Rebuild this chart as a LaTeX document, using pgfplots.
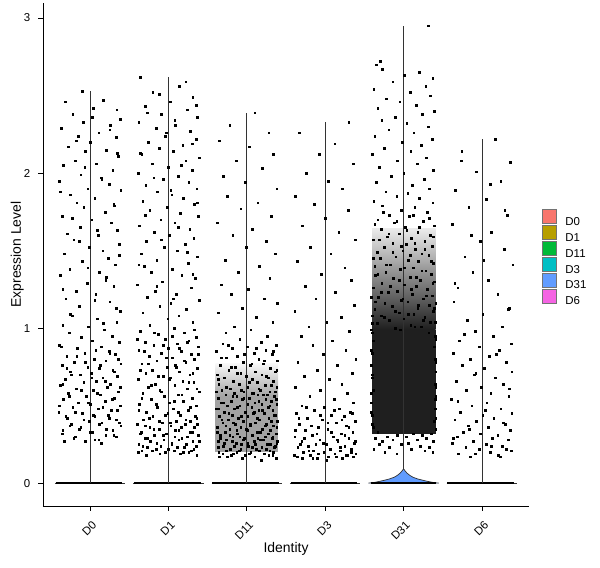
\documentclass[border=0pt]{standalone}
\usepackage{fontspec}
\setmainfont{Liberation Sans}
\usepackage{pgfplots}
\usepackage{pgfplotstable}
\pgfplotsset{compat=1.18}

\definecolor{cD0}{HTML}{F8766D}
\definecolor{cD1}{HTML}{B79F00}
\definecolor{cD11}{HTML}{00BA38}
\definecolor{cD3}{HTML}{00BFC4}
\definecolor{cD31}{HTML}{619CFF}
\definecolor{cD6}{HTML}{F564E3}

% jittered cells: x = horizontal jitter, y = expression level (both x100)
\pgfplotstableread[row sep=\\]{
x y\\
-10 253\\ 17 247\\ 4 242\\ 34 241\\ -22 238\\ 38 235\\ -9 233\\ 26 231\\ -37 229\\ 11 226\\
-15 224\\ 33 223\\ 0 220\\ -28 217\\ 21 215\\ -6 214\\ 36 211\\ -19 208\\ 8 206\\ -34 205\\
29 202\\ -12 199\\ 14 197\\ -39 195\\ 24 193\\ -3 190\\ 39 189\\ -25 186\\ 6 184\\ -17 181\\
31 179\\ -8 178\\ 19 175\\ -36 172\\ 2 170\\ 27 168\\ -13 165\\ 35 163\\ -29 161\\ 10 160\\
-21 157\\ 37 154\\ -1 152\\ 16 150\\ -33 148\\ 23 145\\ -10 143\\ 32 141\\ -26 138\\ 12 136\\
-38 134\\ 20 131\\ -4 129\\ 30 127\\ -18 124\\ 7 122\\ -31 119\\ 25 117\\ -14 114\\ 38 111\\
-23 108\\ 9 106\\ 34 104\\ -35 102\\ -2 101\\ 18 99\\ -27 97\\ 28 95\\ -11 94\\ 3 92\\
37 91\\ -39 89\\ 14 88\\ -16 87\\ 24 85\\ -7 84\\ 32 83\\ -30 82\\ 5 80\\ 20 79\\
-20 78\\ 39 77\\ -36 76\\ -3 75\\ 12 74\\ 29 73\\ -25 72\\ 1 71\\ -13 70\\ 35 69\\
16 68\\ -32 67\\ 8 66\\ -8 65\\ 26 64\\ -38 63\\ 22 62\\ -18 61\\ 4 60\\ 36 59\\
-28 58\\ 13 57\\ -5 56\\ 31 55\\ -34 54\\ 19 53\\ -15 52\\ 0 51\\ 38 50\\ -22 49\\
10 48\\ 27 47\\ -40 46\\ -10 45\\ 23 44\\ 6 43\\ -29 42\\ 33 41\\ -1 40\\ 15 39\\
-24 38\\ 39 37\\ -12 36\\ 21 35\\ -35 34\\ 3 33\\ 30 31\\ -19 30\\ 11 28\\ -6 27\\
-37 88\\ 7 86\\ 25 84\\ -17 82\\ 36 80\\ -6 78\\ 13 76\\ -30 74\\ 31 72\\ -24 70\\
2 68\\ 19 66\\ -35 64\\ 38 62\\ -11 60\\ 9 58\\ -27 56\\ 28 54\\ -2 52\\ -39 50\\
16 49\\ 35 47\\ -19 46\\ 4 44\\ -31 43\\ 24 42\\ -8 41\\ 37 39\\ 12 38\\ -26 37\\
-14 35\\ 29 34\\ 0 33\\ -36 32\\ 20 31\\ 33 30\\ -21 29\\ 6 28\\ -33 27\\ 14 26\\
-32 246\\ 3 236\\ 25 228\\ -18 221\\ 35 213\\ -7 204\\ 15 196\\ -38 188\\ 30 180\\ -23 171\\
9 163\\ -14 156\\ 37 147\\ -3 139\\ 21 133\\ -35 125\\ 6 118\\ 33 113\\ -25 109\\ 17 103\\
}\tDzero

\pgfplotstableread[row sep=\\]{
x y\\
-36 262\\ 14 256\\ -20 252\\ 31 249\\ 2 246\\ -30 243\\ 24 241\\ -9 238\\ 37 236\\ -38 233\\
9 231\\ -16 229\\ 28 227\\ -4 224\\ 35 222\\ -26 220\\ 18 218\\ -12 216\\ 6 214\\ -34 212\\
39 210\\ 22 208\\ -21 206\\ 0 204\\ 30 202\\ -39 200\\ 12 198\\ -7 196\\ 26 194\\ -29 192\\
36 190\\ -14 188\\ 4 186\\ 19 184\\ -33 182\\ 33 180\\ -2 178\\ -24 176\\ 15 174\\ 38 172\\
-10 170\\ 8 168\\ -37 166\\ 27 164\\ -18 162\\ 1 160\\ 32 158\\ -28 156\\ 21 154\\ -5 152\\
11 150\\ -35 148\\ 37 146\\ -15 144\\ 25 142\\ -31 140\\ 5 138\\ -22 136\\ 17 134\\ 34 132\\
-8 130\\ -40 128\\ 29 126\\ -17 124\\ 10 122\\ -27 120\\ 39 118\\ 3 116\\ -11 114\\ 23 112\\
-33 110\\ 13 108\\ -1 106\\ 31 104\\ -24 102\\ 7 100\\ -36 98\\ 20 97\\ -13 96\\ 35 94\\
-4 93\\ 26 92\\ -30 91\\ 11 90\\ -19 89\\ 38 88\\ 0 87\\ -38 86\\ 16 85\\ -9 84\\
29 83\\ -25 82\\ 5 81\\ 33 80\\ -15 79\\ 22 78\\ -34 77\\ 9 76\\ -2 75\\ 37 74\\
-21 73\\ 14 72\\ -29 71\\ 27 70\\ -7 69\\ 2 68\\ -39 67\\ 18 66\\ 32 65\\ -17 64\\
8 63\\ -26 62\\ 24 61\\ -11 60\\ 39 59\\ -33 58\\ 12 57\\ -5 56\\ 30 55\\ -22 54\\
19 53\\ 1 52\\ -37 51\\ 35 50\\ -14 49\\ 6 48\\ 25 47\\ -28 46\\ -1 45\\ 15 44\\
-20 43\\ 36 42\\ -32 41\\ 10 40\\ 28 40\\ -8 39\\ -40 38\\ 21 38\\ 3 37\\ -24 36\\
33 36\\ -12 35\\ 13 34\\ -35 33\\ 27 33\\ -3 32\\ 38 31\\ -18 31\\ 8 30\\ -30 29\\
17 29\\ -6 28\\ 31 27\\ -23 27\\ 4 26\\ -38 25\\ 23 25\\ -10 24\\ 35 24\\ -27 23\\
11 23\\ 0 22\\ -16 22\\ 29 21\\ -34 21\\ 19 20\\ -4 20\\
33 99\\ -18 97\\ 5 95\\ -40 93\\ 24 91\\ -7 89\\ 14 87\\ -31 85\\ 38 83\\ -3 81\\
20 79\\ -26 77\\ 10 75\\ -36 73\\ 31 71\\ -13 69\\ 1 67\\ 26 65\\ -22 63\\ 36 61\\
-9 59\\ 17 57\\ -34 55\\ 7 53\\ -16 51\\ 28 49\\ -38 47\\ 12 46\\ -4 44\\ 34 43\\
-25 42\\ 22 41\\ -12 40\\ 2 39\\ 37 38\\ -30 37\\ 16 36\\ -19 35\\ 9 34\\ 30 33\\
-36 32\\ -7 31\\ 24 30\\ -27 29\\ 13 28\\ 39 27\\ -15 26\\ 4 25\\ -33 24\\ 20 23\\
-1 22\\ 32 22\\ -21 21\\ 7 21\\ -39 20\\ 26 20\\ 15 19\\ -11 19\\ 36 18\\ -28 18\\
22 259\\ -12 251\\ 35 244\\ -27 239\\ 8 234\\ -3 226\\ 30 219\\ -36 213\\ 16 205\\ -19 197\\
3 189\\ 37 181\\ -30 173\\ 12 165\\ -9 157\\ 24 149\\ -38 141\\ 31 135\\ -15 127\\ 6 119\\
}\tDone

\pgfplotstableread[row sep=\\]{
x y\\
10 239\\ -22 231\\ 28 226\\ -35 221\\ 3 217\\ 34 212\\ -14 208\\ 20 203\\ -30 198\\ -2 194\\
38 190\\ -25 185\\ 14 181\\ -8 177\\ 31 172\\ -38 168\\ 7 164\\ -18 160\\ 25 156\\ -1 152\\
36 148\\ -28 144\\ 16 140\\ -11 136\\ 29 132\\ -33 128\\ 2 125\\ -20 122\\ 22 119\\ 39 116\\
-6 113\\ -37 110\\ 12 107\\ 33 104\\ -16 101\\ 5 99\\ -27 97\\ 26 95\\ -9 93\\ 18 91\\
-31 90\\ 37 89\\ 0 88\\ -19 87\\ 24 86\\ -39 85\\ 9 84\\ 32 83\\ -12 82\\ -26 81\\
15 80\\ 39 79\\ -5 78\\ 21 77\\ -34 76\\ 4 76\\ -15 75\\ 30 74\\ -23 73\\ 11 72\\
36 72\\ -8 71\\ -38 70\\ 19 70\\ -1 69\\ 27 68\\ -29 68\\ 7 67\\ -17 66\\ 34 66\\
13 65\\ -36 64\\ -10 64\\ 23 63\\ 1 62\\ 38 62\\ -21 61\\ -32 60\\ 17 60\\ -4 59\\
29 59\\ 8 58\\ -27 57\\ 14 57\\ 35 56\\ -13 56\\ 3 55\\ -37 55\\ 24 54\\ -6 54\\
31 53\\ -20 53\\ 10 52\\ -33 52\\ 19 51\\ 38 51\\ -9 50\\ -25 50\\ 6 49\\ 27 49\\
-16 48\\ -39 48\\ 15 47\\ 33 47\\ -2 46\\ -29 46\\ 22 45\\ 8 45\\ -19 44\\ 36 44\\
-35 43\\ 1 43\\ 28 42\\ -11 42\\ 16 41\\ -24 41\\ 39 40\\ -5 40\\ 11 39\\ -31 39\\
25 38\\ -15 38\\ 4 37\\ 34 37\\ -38 36\\ -8 36\\ 20 35\\ -22 35\\ 30 34\\ 0 34\\
-28 33\\ 13 33\\ 37 32\\ -12 32\\ -34 31\\ 7 31\\ 23 30\\ -18 30\\ 32 29\\ -3 29\\
-26 28\\ 17 28\\ 9 27\\ -37 27\\ 38 26\\ -14 26\\ 26 25\\ -7 25\\ -30 24\\ 2 24\\
19 23\\ 35 23\\ -21 22\\ 12 22\\ -10 21\\ 29 21\\ -36 20\\ 5 20\\ 22 19\\ -17 19\\
33 18\\ -2 18\\ -25 17\\
-39 59\\ 6 58\\ 26 57\\ -18 56\\ -4 55\\ 37 54\\ 15 53\\ -30 52\\ 1 51\\ 29 50\\
-12 49\\ -36 48\\ 20 47\\ 9 46\\ -23 45\\ 35 44\\ -7 43\\ 13 42\\ -32 41\\ 31 40\\
-17 39\\ 4 38\\ 23 37\\ -27 37\\ 38 36\\ -1 35\\ -13 34\\ 17 33\\ -38 33\\ 27 32\\
6 31\\ -22 31\\ 33 30\\ -9 30\\ 14 29\\ -34 29\\ 21 28\\ -5 28\\ 39 27\\ -19 27\\
1 26\\ -29 26\\ 30 25\\ 11 25\\ -16 24\\ 36 24\\ -37 23\\ 7 23\\ 25 22\\ -8 22\\
-26 21\\ 16 21\\ 34 20\\ -13 20\\ 3 19\\ -31 19\\ 28 18\\ -20 18\\ 10 17\\ -35 17\\
37 16\\ -6 16\\ 18 15\\
-24 89\\ 12 87\\ 34 85\\ -3 83\\ -33 81\\ 22 79\\ 6 77\\ -20 75\\ 38 73\\ -12 71\\
25 69\\ -37 67\\ 3 65\\ 31 63\\ -26 62\\ 15 61\\ -7 60\\ 36 59\\ -16 58\\ 21 57\\
}\tDeleven

\pgfplotstableread[row sep=\\]{
x y\\
30 233\\ -33 226\\ 12 219\\ -8 212\\ 36 206\\ -24 200\\ 4 195\\ 22 190\\ -38 185\\ -14 180\\
29 176\\ 0 171\\ -29 166\\ 17 162\\ 38 157\\ -19 152\\ 7 148\\ -36 143\\ 25 139\\ -5 135\\
33 131\\ -26 127\\ 13 123\\ -12 119\\ 37 115\\ -39 111\\ 20 107\\ 2 104\\ -21 101\\ 31 98\\
-31 95\\ 9 92\\ -16 89\\ 26 86\\ -3 83\\ 39 80\\ -35 78\\ 15 76\\ -10 73\\ 34 71\\
-27 69\\ 5 67\\ 21 64\\ -38 62\\ -6 60\\ 28 58\\ -20 56\\ 11 54\\ 36 52\\ -30 50\\
-1 49\\ 18 48\\ -14 47\\ 32 46\\ -37 45\\ 8 44\\ 24 43\\ -23 42\\ -4 41\\ 38 40\\
14 39\\ -33 38\\ 27 37\\ -9 36\\ 3 35\\ -26 34\\ 35 33\\ 20 32\\ -17 31\\ -39 30\\
10 30\\ 30 29\\ -7 28\\ -30 27\\ 16 27\\ 37 26\\ -12 25\\ 1 25\\ -22 24\\ 25 24\\
-35 23\\ 6 22\\ 33 22\\ -15 21\\ 19 21\\ -2 20\\ -28 20\\ 39 19\\ 12 19\\ -19 18\\
28 18\\ -36 17\\ 4 17\\ 22 16\\ -10 16\\
-24 49\\ 11 47\\ 34 45\\ -6 44\\ -34 42\\ 21 41\\ 3 39\\ -18 37\\ 30 36\\ -38 34\\
8 33\\ -11 32\\ 25 31\\ -27 29\\ 15 28\\ 38 27\\ -3 26\\ -32 25\\ 19 23\\ 6 22\\
-21 21\\ 33 20\\ -9 19\\ 26 18\\ -40 18\\ 14 17\\ -16 16\\ 2 15\\ 36 17\\ -29 16\\
}\tDthree

\pgfplotstableread[row sep=\\]{
x y\\
31 295\\ -30 272\\ -35 270\\ -27 267\\ 20 265\\ 1 263\\ 37 261\\ -14 259\\ 28 256\\ -38 254\\
8 252\\ 34 250\\ -22 248\\ -5 246\\ 16 244\\ -33 242\\ 39 240\\ 24 238\\ -11 236\\ -28 234\\
4 232\\ 31 230\\ -19 228\\ 13 226\\ -37 224\\ 36 222\\ -2 220\\ 22 218\\ -25 216\\ 9 214\\
-40 212\\ 29 210\\ -8 208\\ 17 206\\ -31 204\\ 38 202\\ 0 200\\ -16 198\\ 26 196\\ -35 194\\
11 192\\ 33 190\\ -23 188\\ 5 187\\ -9 185\\ 20 184\\ -38 182\\ 37 181\\ -27 179\\ 14 178\\
-3 176\\ 30 175\\ -18 173\\ 7 172\\ -33 170\\ 25 169\\ -12 168\\ 39 166\\ 2 165\\ -29 164\\
18 162\\ -6 161\\ 34 160\\ -21 159\\ 10 158\\ -39 157\\ 27 156\\ -14 155\\ 3 154\\ 36 153\\
-25 152\\ 15 151\\ -1 150\\ -34 149\\ 23 148\\ 32 147\\ -10 146\\ -30 145\\ 6 144\\ 19 143\\
38 142\\ -17 141\\ -37 140\\ 12 139\\ -4 138\\ 28 137\\ -23 136\\ 35 135\\ -36 134\\ 8 133\\
-13 132\\ 21 131\\ 39 130\\ -28 129\\ 1 128\\ 16 127\\ -39 126\\ 30 125\\ -8 124\\ -20 123\\
11 122\\ 36 121\\ -32 120\\ 25 119\\ -3 118\\ 5 117\\ -24 116\\ 33 115\\ -15 114\\ 18 113\\
-37 112\\ 38 111\\ -6 110\\ 13 109\\ -29 108\\ 27 107\\ 0 106\\ -18 105\\ 34 104\\ -40 103\\
9 102\\ 22 101\\ -11 100\\ -40 97\\ 40 95\\ -39 92\\ 39 88\\ -40 84\\ 40 80\\ -41 76\\
41 72\\ -40 68\\ 40 64\\ -39 60\\ 41 56\\ -41 52\\ 40 48\\ -40 44\\ 39 40\\ -39 36\\
-33 33\\ 12 32\\ 35 32\\ -8 31\\ 24 31\\ -21 30\\ 3 30\\ -36 29\\ 29 29\\ -14 28\\
17 28\\ -27 27\\ 38 27\\ 6 26\\ -3 25\\ -31 25\\ 21 24\\ 33 23\\ -18 23\\ -38 22\\
10 22\\ 27 21\\ -24 20\\ 37 20\\ -9 19\\
-26 175\\ 12 173\\ 33 171\\ -9 169\\ -37 167\\ 20 165\\ 4 163\\ -19 161\\ 38 159\\ -31 157\\
14 155\\ -3 153\\ 27 151\\ -14 149\\ 8 147\\ -39 145\\ 35 143\\ -22 141\\ 1 139\\ 23 137\\
-33 135\\ 16 133\\ -6 131\\ 37 129\\ -17 127\\ 10 125\\ -29 123\\ 29 121\\ -1 119\\ -36 117\\
19 115\\ 39 113\\ -11 111\\ 6 109\\ -25 107\\ 25 105\\ -34 103\\ 14 101\\ -4 99\\ 32 97\\
-41 120\\ 41 116\\ -40 108\\ 40 104\\ -41 99\\ 41 93\\ -41 86\\ 41 78\\ -40 70\\ 41 62\\
-41 58\\ 40 54\\ -41 46\\ 41 42\\ -40 38\\ 41 35\\
}\tDthirtyone

\pgfplotstableread[row sep=\\]{
x y\\
17 222\\ -26 214\\ 36 207\\ -7 201\\ 24 195\\ -34 189\\ 5 183\\ -17 178\\ 32 173\\ -38 167\\
12 162\\ -2 156\\ 28 151\\ -22 146\\ 39 141\\ -12 136\\ 8 131\\ -31 126\\ 20 122\\ -36 117\\
35 113\\ 1 109\\ -19 105\\ 26 101\\ -9 98\\ 14 95\\ -29 92\\ 37 90\\ -4 88\\ 22 86\\
-37 84\\ 9 82\\ -15 80\\ 31 78\\ -25 76\\ 3 74\\ 38 72\\ -10 70\\ 17 68\\ -33 66\\
27 64\\ -1 62\\ -20 60\\ 11 58\\ 34 56\\ -39 54\\ 6 52\\ -13 50\\ 24 48\\ -28 46\\
38 45\\ 1 44\\ 15 42\\ -35 41\\ -7 40\\ 30 38\\ -18 37\\ 8 36\\ 36 34\\ -24 33\\
-2 32\\ 20 31\\ -32 30\\ 13 29\\ 33 28\\ -11 27\\ -38 26\\ 5 25\\ 26 24\\ -21 23\\
-4 22\\ 37 21\\ 10 20\\ -30 19\\ 21 18\\ -15 17\\
-27 208\\ 10 193\\ 29 176\\ -14 160\\ 2 144\\ -35 129\\ 33 112\\ -23 96\\ 18 83\\ -8 71\\
35 61\\ -31 53\\ 4 47\\ 27 39\\ -16 35\\ -37 29\\ 12 24\\ 31 22\\ -9 19\\ 23 17\\
}\tDsix

\begin{document}
\begin{tikzpicture}
\path[use as bounding box] (-43bp,-62bp) rectangle (557bp,506bp);
\begin{axis}[
  scale only axis, width=486bp, height=503bp,
  xmin=0.4, xmax=6.6, ymin=-0.1475, ymax=3.097,
  axis x line*=bottom, axis y line*=left,
  axis line style={line width=0.9bp, black},
  xtick={1,...,6}, xticklabels={D0,D1,D11,D3,D31,D6},
  ytick={0,1,2,3},
  tick align=outside, major tick length=4.5bp,
  tick style={line width=0.9bp, black},
  ticklabel style={font=\fontsize{11.5}{13}\selectfont},
  /pgf/number format/assume math mode=true,
  xticklabel style={xshift=4.5bp, yshift=-12.7bp, rotate=45, anchor=east, inner sep=0pt},
  yticklabel style={anchor=east, inner sep=0pt, xshift=-8bp},
  xlabel={Identity}, ylabel={Expression Level},
  label style={font=\fontsize{14}{16}\selectfont},
  xlabel style={at={(axis description cs:0.5,-0.0934)}, anchor=base},
  ylabel style={at={(axis description cs:-0.0453,0.5)}, anchor=base},
  legend entries={D0,D1,D11,D3,D31,D6},
  legend cell align=left,
  legend image code/.code={\draw[#1] (0bp,-1.5bp) rectangle (14bp,12.5bp); \path (22.5bp,0bp);},
  legend style={at={(rel axis cs:1.0267,0.493)}, anchor=west, draw=none, fill=none,
    inner sep=0pt, row sep=-1.9bp, font=\fontsize{11.5}{13}\selectfont,
    nodes={inner sep=0.3bp}},
  mark size=0.85bp,
]
\addlegendimage{fill=cD0, draw=black!55, line width=0.5bp}
\addlegendimage{fill=cD1, draw=black!55, line width=0.5bp}
\addlegendimage{fill=cD11, draw=black!55, line width=0.5bp}
\addlegendimage{fill=cD3, draw=black!55, line width=0.5bp}
\addlegendimage{fill=cD31, draw=black!55, line width=0.5bp}
\addlegendimage{fill=cD6, draw=black!55, line width=0.5bp}

% dense cores of the jittered clouds
\addplot[draw=none, fill=black!36] coordinates {(2.6,0.2) (3.4,0.2) (3.4,0.56) (2.6,0.56)};
\addplot[draw=none, bottom color=black!36, top color=black!3] coordinates {(2.6,0.56) (3.4,0.56) (3.4,0.77) (2.6,0.77)};
\addplot[draw=none, fill=black!88] coordinates {(4.6,0.32) (5.41,0.32) (5.41,0.99) (4.6,0.99)};
\addplot[draw=none, bottom color=black!88, top color=black!8] coordinates {(4.6,0.99) (5.41,0.99) (5.41,1.64) (4.6,1.64)};

\addplot[only marks, mark=square*, mark options={fill=black, draw=black, line width=0.3bp}]
  table[x expr=\thisrow{x}/100+1, y expr=\thisrow{y}/100] {\tDzero};
\addplot[only marks, mark=square*, mark options={fill=black, draw=black, line width=0.3bp}]
  table[x expr=\thisrow{x}/100+2, y expr=\thisrow{y}/100] {\tDone};
\addplot[only marks, mark=square*, mark options={fill=black, draw=black, line width=0.3bp}]
  table[x expr=\thisrow{x}/100+3, y expr=\thisrow{y}/100] {\tDeleven};
\addplot[only marks, mark=square*, mark options={fill=black, draw=black, line width=0.3bp}]
  table[x expr=\thisrow{x}/100+4, y expr=\thisrow{y}/100] {\tDthree};
\addplot[only marks, mark=square*, mark options={fill=black, draw=black, line width=0.3bp}]
  table[x expr=\thisrow{x}/100+5, y expr=\thisrow{y}/100] {\tDthirtyone};
\addplot[only marks, mark=square*, mark options={fill=black, draw=black, line width=0.3bp}]
  table[x expr=\thisrow{x}/100+6, y expr=\thisrow{y}/100] {\tDsix};

% violins (almost all mass at zero)
\addplot[fill=cD31, draw=black!80, line width=0.7bp] coordinates {
  (4.55,0) (4.62,0.004) (4.69,0.011) (4.75,0.018) (4.82,0.027) (4.88,0.038) (4.92,0.050)
  (4.955,0.064) (4.978,0.077) (4.992,0.087) (5,0.092) (5.008,0.087) (5.022,0.077) (5.045,0.064)
  (5.08,0.050) (5.12,0.038) (5.18,0.027) (5.25,0.018) (5.31,0.011) (5.38,0.004) (5.45,0) (4.55,0)};

\addplot[black!80, line width=0.7bp] coordinates {(0.55,0) (1.45,0)};
\addplot[black!80, line width=0.7bp] coordinates {(1.55,0) (2.45,0)};
\addplot[black!80, line width=0.7bp] coordinates {(2.55,0) (3.45,0)};
\addplot[black!80, line width=0.7bp] coordinates {(3.55,0) (4.45,0)};
\addplot[black!80, line width=0.7bp] coordinates {(5.55,0) (6.45,0)};

% cells at zero
\addplot[black, line width=2.4bp] coordinates {(0.56,0) (1.41,0)};
\addplot[black, line width=2.4bp] coordinates {(1.56,0) (2.41,0)};
\addplot[black, line width=2.4bp] coordinates {(2.56,0) (3.41,0)};
\addplot[black, line width=2.4bp] coordinates {(3.56,0) (4.41,0)};
\addplot[black, line width=1.6bp] coordinates {(4.58,0) (5.41,0)};
\addplot[black, line width=2.4bp] coordinates {(5.56,0) (6.41,0)};

\addplot[black!80, line width=0.7bp] coordinates {(1,0) (1,2.53)};
\addplot[black!80, line width=0.7bp] coordinates {(2,0) (2,2.62)};
\addplot[black!80, line width=0.7bp] coordinates {(3,0) (3,2.39)};
\addplot[black!80, line width=0.7bp] coordinates {(4,0) (4,2.33)};
\addplot[black!80, line width=0.7bp] coordinates {(5,0.09) (5,2.95)};
\addplot[black!80, line width=0.7bp] coordinates {(6,0) (6,2.22)};
\end{axis}
\end{tikzpicture}
\end{document}
